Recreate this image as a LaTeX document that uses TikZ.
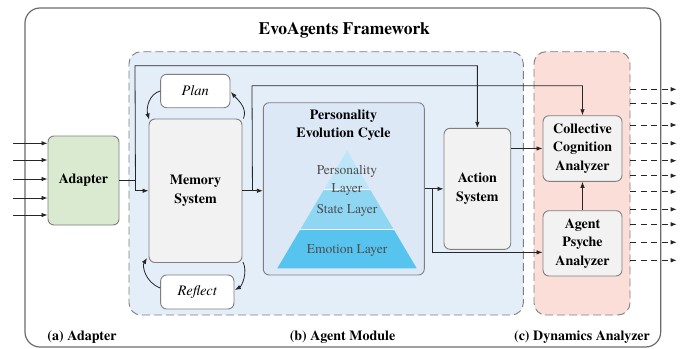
\documentclass[tikz,border=0pt]{standalone}
\usepackage{fontspec}
\setmainfont{texgyretermes}[Extension=.otf, UprightFont=*-regular, BoldFont=*-bold,
  ItalicFont=*-italic, BoldItalicFont=*-bolditalic]
\usetikzlibrary{arrows.meta,calc}

\definecolor{modblue}{HTML}{E4EEF9}
\definecolor{dynpink}{HTML}{FCDED8}
\definecolor{adgreen}{HTML}{DAEAD0}
\definecolor{boxgray}{HTML}{F2F2F2}
\definecolor{pecblue}{HTML}{DCE8F5}
\definecolor{edgegray}{HTML}{7F7F7F}
\definecolor{framegray}{HTML}{6B6B6B}
\definecolor{layerA}{HTML}{BDE5F8}
\definecolor{layerB}{HTML}{8FD6F3}
\definecolor{layerC}{HTML}{56C4EF}
\definecolor{txtgray}{HTML}{4D4D4D}
\definecolor{linecol}{HTML}{262626}

\begin{document}
\begin{tikzpicture}[x=1pt,y=-1pt,
  block/.style={draw=edgegray, line width=0.9pt, rounded corners=6pt, fill=boxgray,
    align=center, inner sep=0pt, font=\fontsize{14}{18.5}\selectfont\bfseries},
  smallbox/.style={draw=edgegray, line width=0.9pt, rounded corners=6pt, fill=white,
    inner sep=0pt, font=\fontsize{14.5}{17}\selectfont\itshape},
  region/.style={draw=edgegray, line width=0.9pt, rounded corners=12pt,
    dash pattern=on 8pt off 4pt, inner sep=0pt},
  conn/.style={draw=linecol, line width=0.8pt, -{Latex[length=6pt,width=4.5pt]}},
  outconn/.style={draw=linecol, line width=0.8pt, dash pattern=on 6pt off 4.5pt,
    -{Latex[length=6pt,width=4.5pt]}},
  lbl/.style={anchor=base, inner sep=0pt, font=\fontsize{14}{17}\selectfont\bfseries},
  layertext/.style={inner sep=0pt, align=center, text=txtgray,
    font=\fontsize{13.5}{18}\selectfont},
]
\useasboundingbox (0,0) rectangle (684,348);

% outer frame and title
\node[draw=framegray, line width=1.2pt, rounded corners=15pt,
  minimum width=635.7pt, minimum height=339pt, inner sep=0pt] (frame) at (342.85,177.5) {};
\node[anchor=base, inner sep=0pt, font=\fontsize{17.5}{20}\selectfont\bfseries]
  (title) at (344.2,34.7) {EvoAgents Framework};

% module regions
\node[region, fill=modblue, minimum width=394.3pt, minimum height=263.3pt] (agentmod) at (326.15,183.35) {};
\node[region, fill=dynpink, minimum width=96pt, minimum height=263.3pt] (dyn) at (582,183.35) {};

% blocks
\node[block, fill=adgreen, minimum width=71pt, minimum height=89pt] (adapter) at (83.5,180.5) {Adapter};
\node[block, minimum width=93pt, minimum height=143.5pt] (memory) at (195.5,190.75) {Memory\\System};
\node[smallbox, minimum width=69.3pt, minimum height=33.4pt] (plan) at (195.3,91) {Plan};
\node[smallbox, minimum width=73.3pt, minimum height=34pt] (reflect) at (197.3,292) {Reflect};
\node[block, fill=pecblue, minimum width=161pt, minimum height=172.3pt] (pec) at (343.8,188.85) {};
\node[block, minimum width=66.7pt, minimum height=121pt] (action) at (477.35,188.8) {Action\\System};
\node[block, minimum width=79pt, minimum height=65.6pt] (collective) at (582.5,148.5) {Collective\\Cognition\\Analyzer};
\node[block, minimum width=79pt, minimum height=65.3pt] (psyche) at (582.5,243.35) {Agent\\Psyche\\Analyzer};

% personality evolution cycle: title and layered pyramid
\node[inner sep=0pt, align=center, font=\fontsize{14}{18}\selectfont\bfseries]
  (pectitle) at (343.5,125) {Personality\\Evolution Cycle};
\fill[layerA] (347,150.7) -- (369.9,189.3) -- (324.1,189.3) -- cycle;
\fill[layerB] (324.1,189.3) -- (369.9,189.3) -- (393.6,229.3) -- (300.4,229.3) -- cycle;
\fill[layerC] (300.4,229.3) -- (393.6,229.3) -- (416.7,268.3) -- (277.3,268.3) -- cycle;
\draw[white, line width=0.8pt] (324.1,189.3) -- (369.9,189.3) (300.4,229.3) -- (393.6,229.3);
\node[layertext] (layerP) at (347,180.3) {Personality\\Layer};
\node[layertext] (layerS) at (347,210.5) {State Layer};
\node[layertext] (layerE) at (347,250.5) {Emotion Layer};

% section labels
\node[lbl] (laba) at (82,340.7) {(a) Adapter};
\node[lbl] (labb) at (342.5,340.7) {(b) Agent Module};
\node[lbl] (labc) at (582,340.7) {(c) Dynamics Analyzer};

% inputs into the adapter
\foreach \y [count=\i] in {143.3,160,179,198,215} {
  \coordinate (in\i) at (13,\y);
  \draw[conn] (in\i) -- (in\i -| adapter.west);
}

% outputs of the dynamics analyzer
\foreach \y [count=\i] in {89.3,103.3,125,143.3,160.7,175.7,191.7,209.3,224.3,242.3,260.3} {
  \coordinate (out\i) at (676.7,\y);
  \draw[outconn] (out\i -| dyn.east) -- (out\i);
}

% adapter to memory and action
\coordinate (j1) at ($(adapter.east)+(16,0)$);
\coordinate (t1) at (135,65.7);
\draw[conn] (adapter.east) -- (j1) |- (memory.west);
\draw[conn] (j1) -- (t1) -| (action.north);

% memory to personality cycle and collective cognition
\coordinate (j2) at ($(memory.east)+(10,0)$);
\coordinate (t2) at (252,85.7);
\draw[conn] (memory.east) -- (memory.east -| pec.west);
\draw[conn] (j2) -- (t2) -| (collective.north);

% personality cycle to action and psyche
\coordinate (j3) at ($(pec.east)+(8,0)$);
\draw[conn] (pec.east) -- (pec.east -| action.west);
\draw[conn] (j3) |- ([yshift=-9pt]psyche.west);

% action to collective, psyche to collective
\draw[conn] (action.east |- collective.west) -- (collective.west);
\draw[conn] (psyche.north) -- (collective.south);

% plan / reflect loops around memory
\draw[conn] (plan.west) .. controls (149,94) and (146,108) .. ($(memory.north west)+(0.5,1)$);
\draw[conn] ($(memory.north east)+(1,0)$) .. controls (248,108) and (237,99) .. ($(plan.east)+(0.5,1)$);
\draw[conn] ($(memory.south east)+(0.5,-1)$) .. controls (248,272) and (242,286) .. ($(reflect.east)+(0.5,-2)$);
\draw[conn] ($(reflect.west)+(0,-4)$) .. controls (145,282) and (142,266) .. ($(memory.south west)+(-1.5,-5)$);
\end{tikzpicture}
\end{document}
